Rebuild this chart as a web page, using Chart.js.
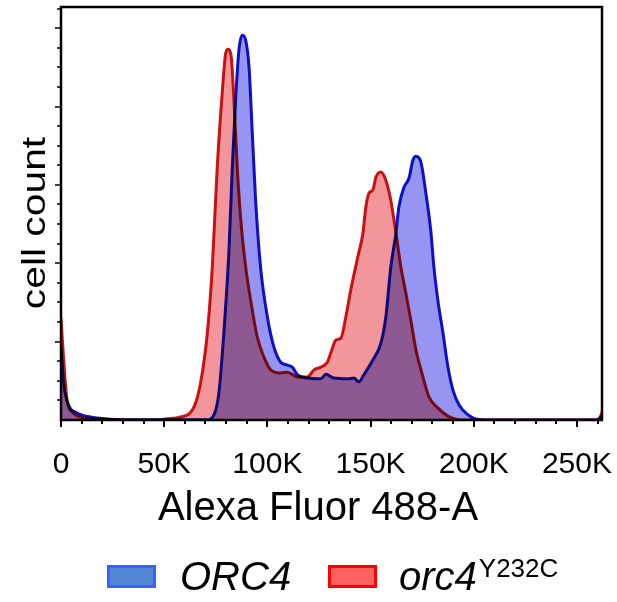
<!DOCTYPE html>
<html>
<head>
<meta charset="utf-8">
<script src="https://cdn.jsdelivr.net/npm/chart.js@4.4.0/dist/chart.umd.min.js"></script>
<style>
  html, body { margin: 0; padding: 0; background: #fff; }
  #wrap { width: 617px; height: 602px; }
</style>
</head>
<body>
<div id="wrap"><canvas id="grafico" width="617" height="602"></canvas></div>
<script>
// ejes
const xTicks = [0, 50000, 100000, 150000, 200000, 250000];
const xTickLabels = ['0', '50K', '100K', '150K', '200K', '250K'];
const xTitle = 'Alexa Fluor 488-A';
const yTitle = 'cell count';

// ORC4 (azul)
const orc4X = [0, 1260, 3690, 7770, 14200, 22300, 28800, 70900, 74100, 76500, 78900, 81400, 83000, 84600, 86200, 87900, 89500, 91100, 92700, 94300, 96700, 100000, 103200, 106400, 109700, 112100, 114600, 119400, 125900, 128300, 132300, 139000, 141900, 144300, 146700, 151100, 155000, 157400, 159800, 162300, 163700, 166200, 168600, 170500, 172000, 174400, 176800, 179300, 180700, 182600, 185100, 187500, 189900, 192900, 197300, 202100, 206000, 259400, 262600];
const orc4Y = [18.6, 9.4, 3.8, 1.8, 0.77, 0.26, 0.08, 0.08, 1.3, 6.9, 22.2, 43.4, 64.5, 81.6, 94.4, 98.2, 96.9, 90.1, 73.2, 56.1, 39.0, 26.3, 18.6, 14.8, 14.0, 13.5, 11.5, 10.7, 10.5, 11.7, 10.7, 10.5, 10.7, 9.7, 11.5, 15.3, 19.6, 26.3, 39.0, 47.7, 54.3, 59.4, 61.7, 66.3, 67.3, 65.8, 57.9, 47.7, 39.0, 30.6, 22.2, 13.5, 7.7, 3.8, 1.3, 0.1, 0, 0, 1.3];

// orc4 Y232C (rojo)
const mutX = [0, 970, 2910, 5490, 11800, 28800, 31200, 48200, 50600, 57900, 64400, 67600, 70900, 73300, 75700, 78100, 79800, 80900, 82500, 83800, 85400, 87000, 89500, 91900, 95100, 98300, 101600, 106400, 109700, 114600, 119400, 122600, 125900, 129100, 130700, 133200, 135600, 138000, 140400, 143800, 146300, 147700, 149200, 151100, 152600, 155000, 157400, 159800, 162300, 164700, 167100, 169500, 172000, 175400, 178300, 182600, 187500, 192400, 196000, 260400, 262600];
const mutY = [26.0, 17.9, 5.1, 2.0, 0.5, 0.1, 0, 0, 0.26, 0.77, 3.3, 9.4, 22.2, 39.0, 64.5, 83.4, 93.6, 94.6, 92.6, 81.6, 64.5, 51.8, 39.0, 30.6, 21.2, 16.1, 12.8, 12.0, 12.2, 11.0, 11.0, 12.8, 13.5, 14.8, 17.1, 20.4, 20.9, 26.3, 33.2, 41.6, 47.7, 54.3, 57.9, 58.7, 62.0, 63.3, 61.2, 56.1, 47.7, 39.0, 32.4, 25.5, 17.9, 11.0, 5.9, 3.1, 1.0, 0.1, 0, 0, 2.6];

const nombres = ['ORC4', 'orc4'];
const superindice = 'Y232C';

const FUENTE = '"Liberation Sans", Arial, sans-serif';

const marcoPlugin = {
  id: 'marco',
  beforeDraw(chart) {
    const ctx = chart.ctx;
    ctx.save();
    ctx.fillStyle = '#fff';
    ctx.fillRect(0, 0, chart.width, chart.height);
    ctx.restore();
  },
  beforeDatasetsDraw(chart) {
    chart.ctx.save();
    chart.ctx.globalCompositeOperation = 'multiply';
  },
  afterDatasetsDraw(chart) {
    const ctx = chart.ctx;
    ctx.restore();
    const a = chart.chartArea;
    const xs = chart.scales.x;
    const ys = chart.scales.y;

    ctx.save();
    ctx.strokeStyle = '#000';
    ctx.lineWidth = 2.5;
    ctx.strokeRect(a.left, a.top, a.right - a.left, a.bottom - a.top);

    // marcas eje x
    ctx.lineWidth = 2;
    for (let v = 0; v <= 260000; v += 10000) {
      const px = Math.round(xs.getPixelForValue(v));
      const largo = v % 50000 === 0 ? 7 : 4;
      ctx.beginPath();
      ctx.moveTo(px, a.bottom);
      ctx.lineTo(px, a.bottom + largo);
      ctx.stroke();
    }
    // marcas eje y
    ctx.lineWidth = 1.5;
    for (let i = 1; i <= 21; i++) {
      const py = Math.round(ys.getPixelForValue(i * 5));
      const largo = i % 4 === 0 ? 6 : 4;
      ctx.beginPath();
      ctx.moveTo(a.left - largo, py);
      ctx.lineTo(a.left, py);
      ctx.stroke();
    }

    // etiquetas
    ctx.fillStyle = '#000';
    ctx.font = '30px ' + FUENTE;
    ctx.textAlign = 'center';
    ctx.textBaseline = 'alphabetic';
    xTicks.forEach((v, i) => {
      ctx.fillText(xTickLabels[i], xs.getPixelForValue(v), 473);
    });

    ctx.font = '40px ' + FUENTE;
    ctx.fillText(xTitle, 318, 520);

    ctx.save();
    ctx.translate(45, 223);
    ctx.rotate(-Math.PI / 2);
    ctx.scale(1.2, 1);
    ctx.font = '34px ' + FUENTE;
    ctx.fillText(yTitle, 0, 0);
    ctx.restore();

    // leyenda
    ctx.lineWidth = 3;
    ctx.fillStyle = '#5587d7';
    ctx.strokeStyle = '#3264ff';
    ctx.fillRect(108.5, 566.5, 46, 20);
    ctx.strokeRect(108.5, 566.5, 46, 20);
    ctx.fillStyle = '#ff6060';
    ctx.strokeStyle = '#ff0000';
    ctx.fillRect(329.5, 566.5, 46, 20);
    ctx.strokeRect(329.5, 566.5, 46, 20);

    ctx.fillStyle = '#000';
    ctx.textAlign = 'left';
    ctx.font = 'italic 40px ' + FUENTE;
    ctx.fillText(nombres[0], 180, 590);
    ctx.fillText(nombres[1], 399, 590);
    const w = ctx.measureText(nombres[1]).width;
    ctx.font = '26px ' + FUENTE;
    ctx.fillText(superindice, 399 + w + 2, 577);
    ctx.restore();
  }
};

const puntos = (xsArr, ysArr) => xsArr.map((x, i) => ({ x: x, y: ysArr[i] }));

new Chart(document.getElementById('grafico'), {
  type: 'line',
  data: {
    datasets: [
      {
        label: nombres[0],
        data: puntos(orc4X, orc4Y),
        borderColor: 'rgb(18, 18, 205)',
        backgroundColor: 'rgb(150, 150, 242)',
        borderWidth: 3,
        fill: 'origin'
      },
      {
        label: nombres[1] + superindice,
        data: puntos(mutX, mutY),
        borderColor: 'rgb(205, 22, 22)',
        backgroundColor: 'rgb(242, 150, 155)',
        borderWidth: 3,
        fill: 'origin'
      }
    ]
  },
  options: {
    responsive: false,
    animation: false,
    layout: { padding: { left: 61, right: 15, top: 7, bottom: 182 } },
    plugins: { legend: { display: false }, tooltip: { enabled: false } },
    elements: { point: { radius: 0 }, line: { cubicInterpolationMode: 'monotone' } },
    scales: {
      x: { type: 'linear', display: false, min: 0, max: 262144 },
      y: { display: false, min: 0, max: 105.4 }
    }
  },
  plugins: [marcoPlugin]
});
</script>
</body>
</html>
